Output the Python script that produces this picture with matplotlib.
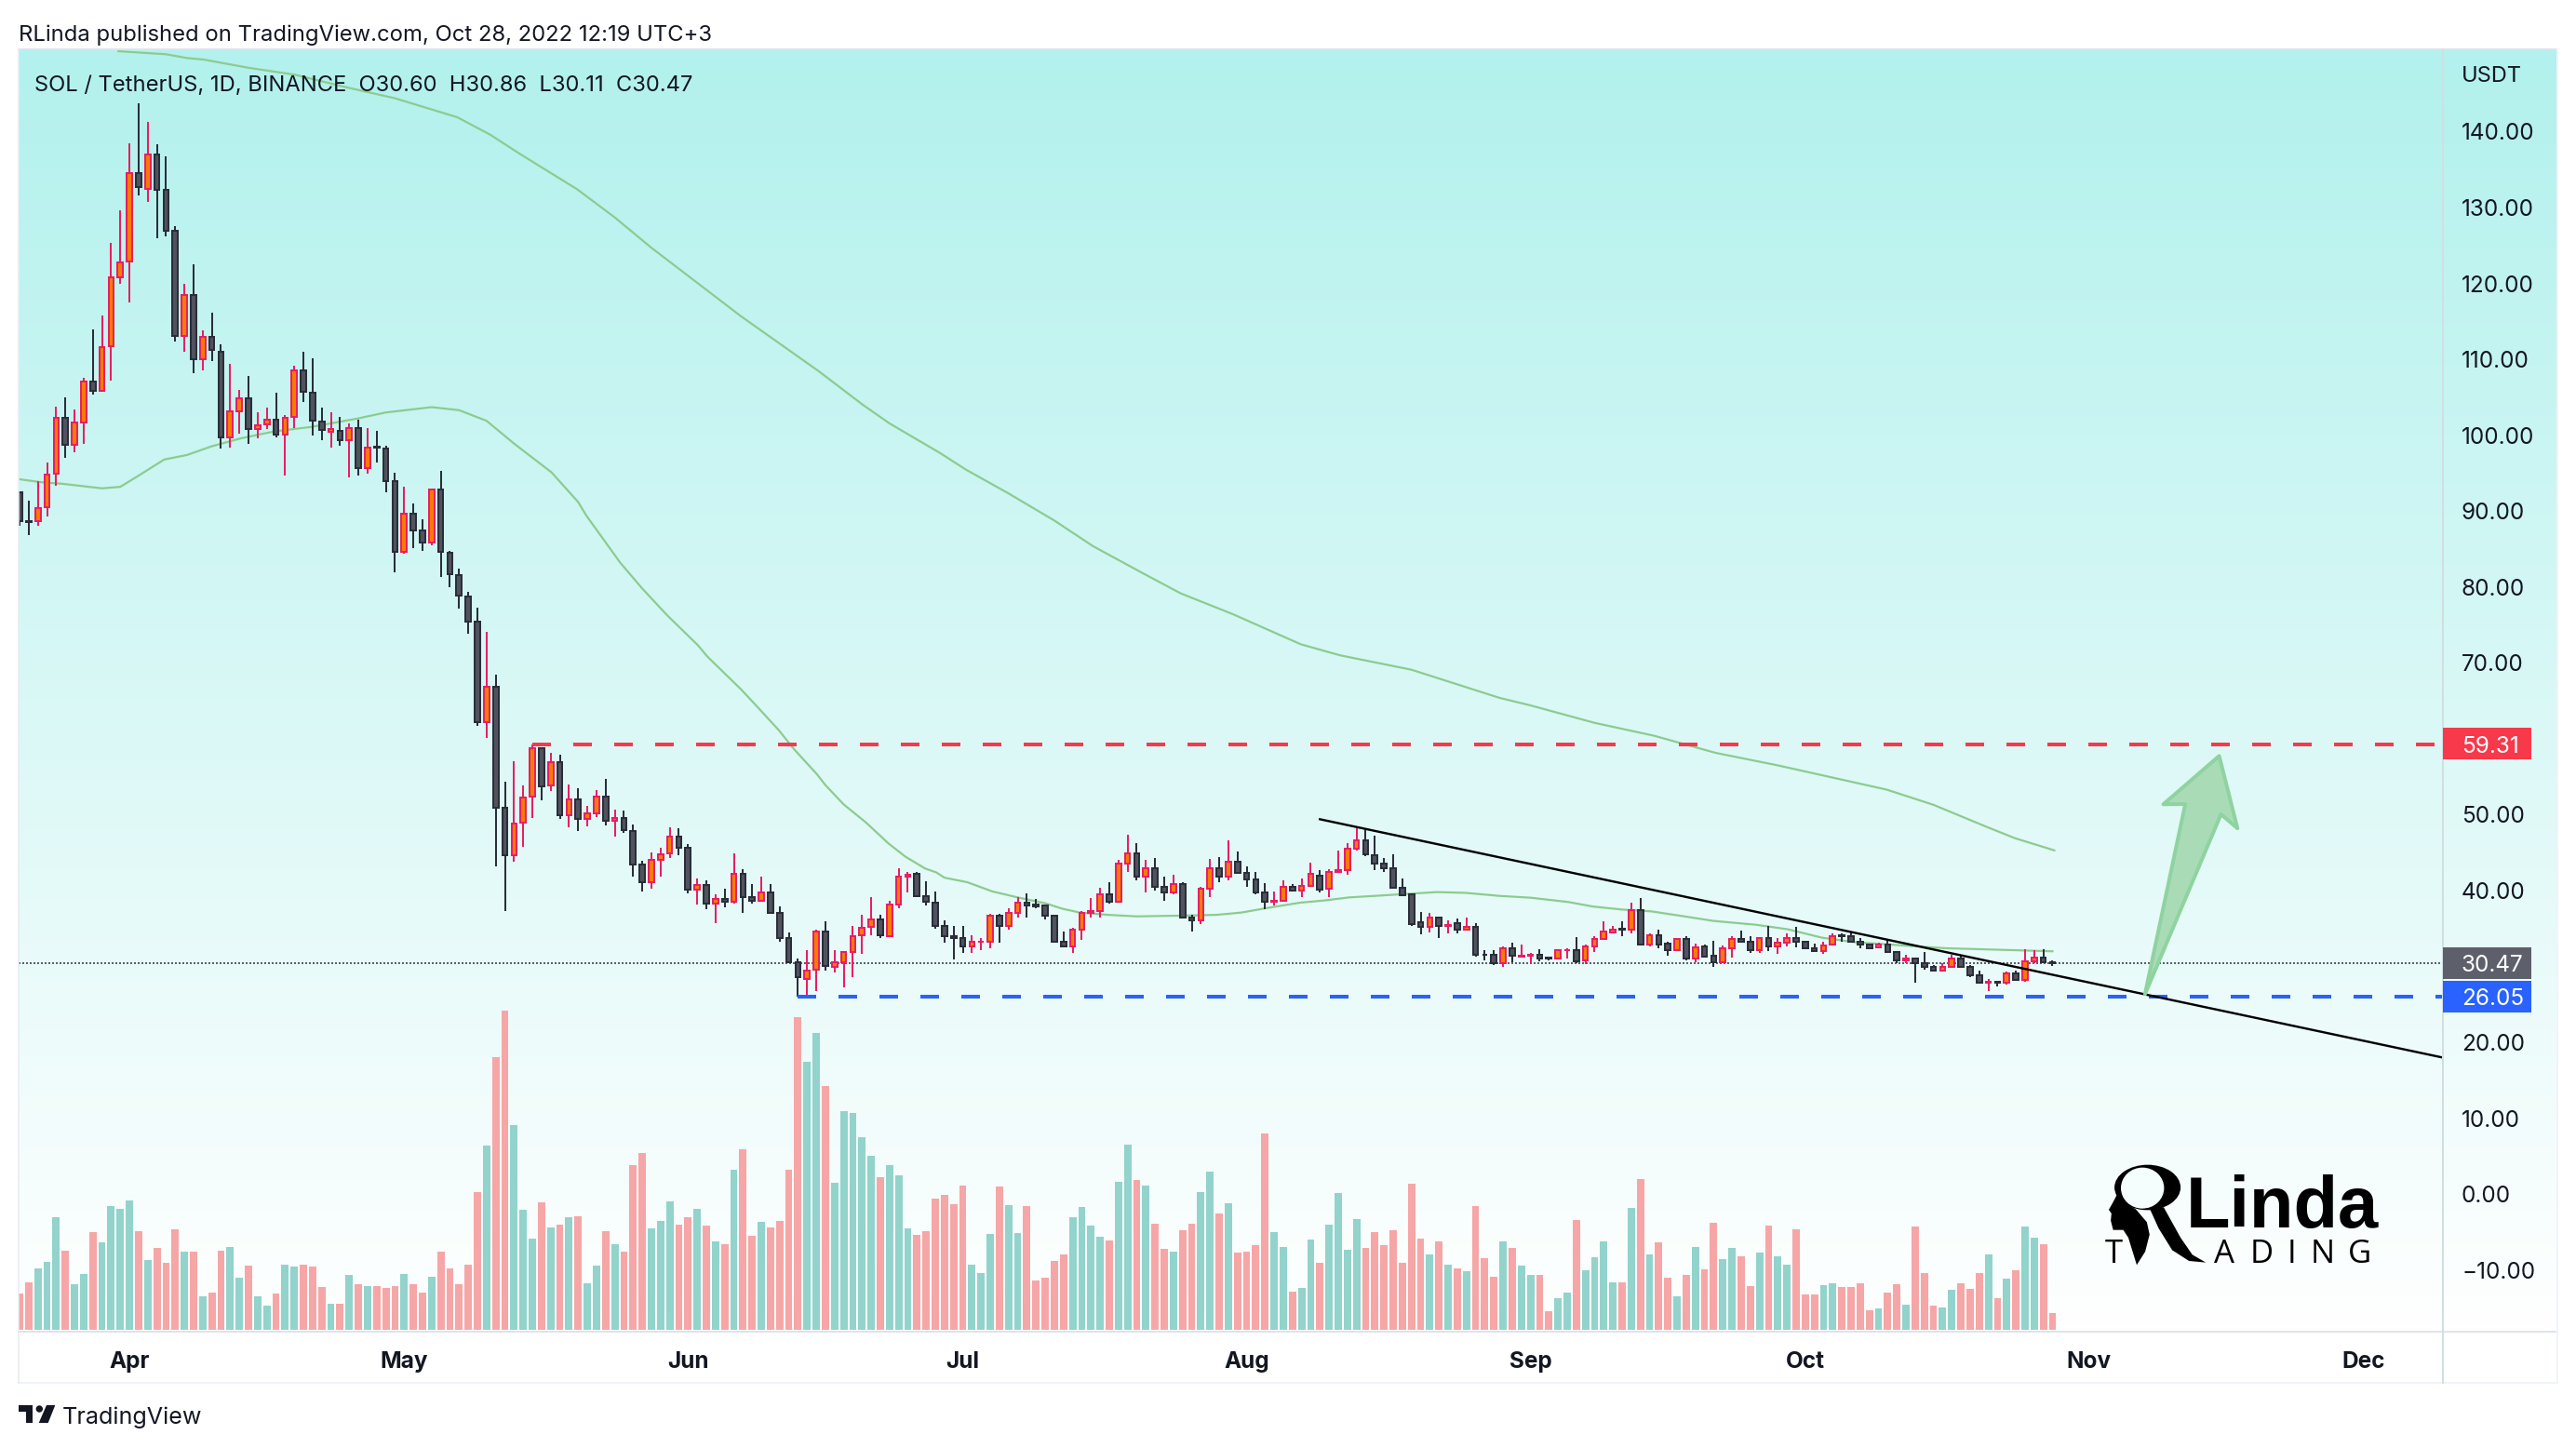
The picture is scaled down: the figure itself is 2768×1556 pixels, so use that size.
import numpy as np
import matplotlib
matplotlib.use("Agg")
import matplotlib.pyplot as plt
from matplotlib.patches import Polygon, Ellipse, Circle, FancyBboxPatch
from matplotlib.transforms import blended_transform_factory

plt.rcParams['font.family'] = ['Inter', 'DejaVu Sans']

# daily SOL/USDT candles, first one is Mar 20 2022, last one Oct 28 2022
opens = [92.5, 88.7, 88.7, 90.5, 94.9, 102.3, 98.7, 101.7, 107.1, 105.8,
         111.7, 120.8, 122.9, 134.5, 132.5, 137, 132.3, 127, 113.1, 118.5,
         110, 113, 111, 99.7, 103.2, 104.9, 100.8, 101.4, 102.1, 100.1,
         102.4, 108.5, 105.6, 101.8, 100.5, 100.6, 99.3, 100.9, 95.7, 98.5,
         98.3, 94, 84.6, 89.7, 87.5, 85.9, 92.8, 84.5, 81.6, 78.8,
         75.4, 62.2, 66.9, 50.9, 44.6, 48.9, 52.4, 58.8, 53.8, 56.9,
         49.9, 52, 49.4, 50.2, 52.4, 49.2, 49.6, 47.9, 43.4, 41.1,
         44.1, 44.9, 47.1, 45.7, 40.1, 40.7, 38.3, 38.9, 38.5, 42.2,
         39.1, 38.7, 39.8, 37.1, 33.8, 30.5, 28.4, 29.6, 34.6, 30,
         30.6, 31.9, 34.1, 35.2, 36.2, 34, 38.1, 41.9, 42.2, 39.3,
         38.4, 35.3, 34, 33.7, 32.7, 33.2, 33.3, 36.7, 35.3, 37,
         38.4, 38.1, 38, 36.7, 33.3, 32.6, 34.8, 37, 37.3, 39.5,
         38.5, 43.5, 44.9, 41.9, 43, 40.5, 39.8, 40.8, 36.5, 36.1,
         40.2, 42.9, 41.8, 43.8, 42.3, 41.5, 39.7, 38.5, 38.7, 40.5,
         40, 40.6, 42, 40.3, 42.4, 42.7, 45.5, 46.6, 44.7, 43.6,
         43, 40.4, 39.5, 35.8, 35.2, 36.4, 35.3, 35.7, 34.8, 35.2,
         31.6, 31.5, 30.4, 32.4, 31.3, 31.4, 31.5, 31.2, 31, 32.1,
         32.1, 30.8, 32.6, 33.6, 34.5, 35, 34.9, 37.4, 32.9, 34.1,
         33, 32.1, 33.6, 31, 32.6, 31.4, 30.5, 32.4, 33.6, 33.3,
         32.2, 33.8, 32.6, 33.1, 33.8, 33.2, 32.4, 32, 32.9, 34.1,
         34, 33.2, 32.9, 32.5, 32.9, 31.9, 30.8, 31, 30.4, 29.9,
         29.5, 30, 31.1, 30, 28.8, 27.9, 28, 27.9, 29.1, 28.2,
         30.7, 31.2, 30.6]
highs = [92.5, 91.4, 94, 96.4, 103.8, 105, 103.4, 107.6, 113.9, 115.8,
         125.3, 129.6, 138.5, 143.7, 141.3, 138.4, 136.8, 127.5, 120, 122.5,
         113.8, 116.2, 112, 109.4, 106, 107.8, 103, 103.6, 105.6, 102.7,
         109.1, 111, 110.1, 103.6, 103, 102.4, 101.6, 102, 100.9, 100.6,
         98.6, 95, 93.2, 91, 88.9, 93, 95.3, 84.8, 82.4, 79.4,
         77.3, 74.1, 68.4, 54.4, 57, 53.8, 59.3, 58.8, 58.2, 57.9,
         54, 53.5, 51.1, 53.2, 54.7, 50.7, 50.5, 48.7, 43.9, 45,
         45.6, 48.3, 48.2, 46.1, 41.6, 41.4, 39.5, 40.2, 44.9, 42.8,
         40.9, 41.9, 40.8, 37.9, 34.5, 31, 32.2, 34.8, 35.9, 32.1,
         32, 35.3, 36.8, 39.1, 36.8, 38.6, 42.9, 42.5, 42.4, 41.2,
         39.9, 36.1, 35.3, 35.3, 34.1, 33.8, 36.9, 36.9, 37.7, 39.2,
         39.6, 38.9, 38.2, 36.7, 34.6, 35.1, 37.3, 39, 40.4, 41.1,
         44.1, 47.4, 46.3, 44.1, 44.3, 41.8, 42.1, 41.1, 36.8, 40.5,
         44.2, 44.4, 46.6, 45.2, 43.2, 42.5, 41, 39.9, 41.4, 40.9,
         41.6, 43.7, 42.7, 42.8, 45.3, 46.2, 48.3, 48.2, 47.2, 44.3,
         44.8, 41.6, 39.5, 37.2, 37.1, 36.6, 36.1, 36.3, 36.4, 35.7,
         32.2, 32.2, 32.6, 33.1, 32.9, 31.8, 32.3, 31.3, 32.2, 32.4,
         33.9, 32.9, 34, 36, 35.3, 36, 38.4, 39, 34.3, 34.9,
         33.2, 33.8, 34, 33, 32.9, 33.4, 32.8, 34, 34.7, 34,
         33.9, 35.3, 33.7, 34.3, 35.2, 33.3, 33, 33.3, 34.4, 34.4,
         34.5, 33.7, 33, 33.1, 33.5, 31.9, 31.5, 31.2, 31.9, 30.2,
         30.4, 31.5, 31.5, 30.2, 29.4, 28.3, 28.1, 29.3, 29.4, 32.3,
         32.1, 32.3, 30.86]
lows = [88.1, 86.9, 88.1, 89.3, 93.4, 97, 97.8, 98.9, 105.4, 105.7,
        107.2, 120, 117.5, 131.6, 130.7, 126, 126.2, 112.3, 111, 108.2,
        108.5, 109.8, 98.3, 98.4, 100.2, 98.9, 99.6, 100.8, 99.7, 94.7,
        101, 104.4, 100, 99.3, 98.4, 98.6, 94.5, 94.7, 94.9, 96.4,
        92.5, 81.9, 84.4, 85.1, 84.8, 85.5, 81.3, 80, 77.1, 73.8,
        61.7, 60.1, 43.2, 37.3, 43.8, 45.8, 49.6, 51.9, 53.1, 49.4,
        48.3, 47.9, 48.5, 49.7, 48.6, 47.1, 47.6, 41.8, 39.9, 40.3,
        41.8, 44.3, 44.6, 39.6, 38.1, 37.6, 35.7, 37.8, 38.3, 37.1,
        38.3, 38.5, 36.9, 33.2, 30.5, 26, 25.9, 26.8, 29.5, 29.2,
        27.2, 28.6, 31.7, 34.1, 33.7, 33.9, 37.7, 39.8, 39.1, 38,
        35, 33.1, 30.9, 31.8, 31.8, 32.2, 32.4, 33.1, 34.9, 36.4,
        36.5, 37.7, 36.2, 33.2, 32.5, 31.8, 33.5, 36.4, 36.4, 38.3,
        38.4, 42.5, 41.3, 39.7, 40, 38.6, 39.5, 36.5, 34.6, 35.6,
        39.1, 41.1, 41.4, 42.2, 40.5, 39.5, 37.5, 38, 38.7, 39.9,
        39.2, 40.5, 39.8, 39.2, 42.4, 42.1, 45.3, 44.5, 42.7, 42.5,
        40.2, 39.3, 35.3, 34.2, 34.5, 33.7, 34.3, 34.3, 34.7, 31.3,
        30.8, 30.2, 30, 30.6, 31.2, 30.4, 30.7, 30.8, 30.9, 31.1,
        30.4, 30.3, 31.9, 33.5, 34.3, 34, 34.4, 32.9, 32.6, 32.4,
        31.4, 32, 30.8, 30.5, 31.3, 29.9, 30.4, 31.2, 33.1, 31.8,
        31.8, 32, 31.7, 32.6, 32.5, 32.3, 31.9, 31.7, 32.8, 33.2,
        33.2, 32.4, 32.3, 32.4, 31.8, 30.4, 30.4, 27.9, 29.6, 29.3,
        29.5, 29.9, 29.8, 28.6, 27.9, 26.8, 27.4, 27.6, 28.1, 28,
        30.4, 30.4, 30.11]
closes = [88.7, 88.6, 90.4, 94.8, 102.3, 98.7, 101.7, 107.1, 105.8, 111.6,
          120.8, 122.8, 134.5, 132.7, 137, 132.3, 127, 113.1, 118.5, 110,
          113, 111.2, 99.7, 103.2, 104.9, 100.8, 101.3, 102.1, 100.1, 102.3,
          108.5, 105.7, 101.9, 100.7, 100.8, 99.3, 100.9, 95.7, 98.4, 98.4,
          94, 84.6, 89.7, 87.5, 85.9, 92.8, 84.6, 81.7, 78.9, 75.4,
          62.2, 66.9, 50.9, 44.6, 48.8, 52.3, 58.8, 53.7, 56.9, 49.9,
          52, 49.4, 50.2, 52.4, 49.2, 49.6, 48, 43.4, 41.1, 44.1,
          44.8, 47.1, 45.7, 40.1, 40.7, 38.3, 38.9, 38.5, 42.2, 39.2,
          38.7, 39.8, 37.1, 33.8, 30.6, 28.6, 29.5, 34.6, 30.1, 30.6,
          31.9, 34, 35.1, 36.2, 34.1, 38.1, 41.8, 42.1, 39.3, 38.5,
          35.3, 34, 33.7, 32.7, 33.2, 33.3, 36.7, 35.3, 37, 38.4,
          38, 37.9, 36.7, 33.3, 32.6, 34.8, 37, 37.3, 39.5, 38.5,
          43.5, 44.9, 41.9, 43, 40.5, 39.8, 40.8, 36.5, 36.1, 40.2,
          42.9, 41.8, 43.8, 42.3, 41.5, 39.7, 38.5, 38.7, 40.5, 40,
          40.6, 42.2, 40.1, 42.4, 42.7, 45.5, 46.6, 44.8, 43.6, 43,
          40.4, 39.4, 35.6, 35.2, 36.4, 35.3, 35.5, 34.9, 35.2, 31.6,
          31.5, 30.4, 32.4, 31.4, 31.4, 31.5, 31.1, 31, 32.1, 32.2,
          30.7, 32.6, 33.6, 34.6, 34.9, 34.9, 37.4, 32.9, 34.1, 32.9,
          32.1, 33.6, 31, 32.5, 31.3, 30.5, 32.4, 33.6, 33.3, 32.2,
          33.8, 32.6, 33.1, 33.8, 33.2, 32.4, 32, 32.8, 34, 34,
          33.2, 32.9, 32.4, 32.9, 31.9, 30.8, 31, 30.4, 29.9, 29.5,
          30, 31.1, 30, 28.8, 27.9, 28, 27.9, 29.1, 28.2, 30.7,
          31.2, 30.6, 30.47]

# volume pane, no scale is shown so these are pixel-like heights
volumes = [39, 51, 66, 73, 121, 85, 49, 60, 105, 94, 133, 130, 139, 106, 75, 88, 72, 108, 84, 84,
           36, 40, 85, 89, 56, 69, 36, 26, 39, 70, 68, 70, 68, 46, 28, 28, 59, 49, 47, 47,
           45, 47, 60, 49, 40, 57, 84, 66, 49, 70, 148, 198, 293, 343, 220, 129, 98, 137, 110, 113,
           121, 122, 50, 69, 106, 92, 84, 177, 190, 109, 117, 138, 113, 121, 130, 112, 95, 92, 172, 194,
           101, 116, 110, 117, 172, 336, 288, 319, 262, 158, 235, 233, 207, 187, 164, 177, 166, 109, 102, 106,
           141, 145, 135, 155, 70, 61, 103, 154, 134, 104,
           133, 53, 56, 74, 81, 121, 132, 112, 100, 96, 159, 199, 161, 155, 114, 87, 84, 107, 114, 148,
           170, 125, 136, 83, 84, 91, 211, 105, 89, 41, 45, 97, 72, 113, 147, 86, 119, 88, 105, 91,
           107, 72, 157, 98, 81, 95, 70, 66, 63, 133, 77, 57, 95, 88, 69, 59, 59, 20, 34, 40,
           118, 64, 78, 95, 51, 51, 131, 162, 81, 94, 56, 36, 59, 89, 65, 115, 76, 88, 79, 47,
           83, 112, 79, 70, 108, 38, 38, 48, 50, 46, 46, 50, 21, 23, 40, 49, 27, 111, 61, 26,
           24, 43, 50, 44, 61, 81, 34, 55, 64, 111, 99, 92, 18]
vol_sides = ("RRGGGRGGRG" "GGGRGRRRGR" "GRRGGRGGRG" "GRRRGRGRGR" "RRGRRGRRRR"
             "RGRRGGGRGR" "GRGGRGRRRG" "GGRRGRGRGR" "RGRRRRGGRG" "GGGGRGGGRR"
             "RRRRGGGRGG"
             "RRRRRGGGGR" "GGRGRRGRRG" "GRGRRRRGGR" "GGRGGGGRRR" "RRRRGRGRGR"
             "RRGRGGRRGG" "RGGGGRGRGR" "RGRGRRGGRR" "GRGGRRRGGR" "RRRGRRGRRR"
             "GGRRRGRGRG" "GRR")

# moving averages, bar index and price
ma_fast_x = [0, 2.4, 4.7, 9, 11, 12.9, 15.8, 18.3, 21, 24.2, 27.8, 31.9, 36.9, 40, 45, 48, 51, 54,
             58.1, 61, 61.9, 65.6, 68, 70.7, 74.1, 75.1, 78.8, 80.5, 82.9, 84.6, 87.1, 88, 90, 92.4, 94.9,
             96.7, 98.9, 100.1, 101, 103.5, 106.2, 109, 112.1, 113.9, 115.8, 118.9, 122, 127, 130.7, 133.4,
             136.2, 139.8, 142.5, 145.2, 148, 152, 154.8, 157.9, 161.6, 165, 169.1, 171.8, 175, 178.2, 181.8,
             185, 189.6, 193.1, 196.8, 200.4, 205.8, 210.4, 216.3, 222]
ma_fast_y = [94.2, 93.8, 93.6, 93, 93.2, 94.6, 96.8, 97.4, 98.55, 99.6, 100.5, 101.1, 102.2, 103, 103.7, 103.3, 101.9, 98.9,
             95.1, 91.2, 89.4, 83.2, 79.8, 76.3, 72.3, 70.85, 66.5, 64.3, 61.15, 58.6, 55.3, 53.9, 51.35, 49, 46.2,
             44.5, 42.9, 42.4, 41.7, 41.1, 39.9, 39.1, 38.3, 37.6, 37.1, 36.8, 36.6, 36.7, 36.8, 37.1,
             37.7, 38.4, 38.7, 39.1, 39.3, 39.6, 39.8, 39.7, 39.3, 39.06, 38.5, 37.9, 37.5, 37.26, 36.6,
             36, 35.5, 34.9, 33.8, 33.2, 32.76, 32.4, 32.2, 32]
ma_slow_x = [10.8, 16, 18.3, 20.1, 25.1, 30.1, 35.5, 41, 47.8, 51.4, 54.6, 60.9, 65, 69, 78.8, 87.2, 92.1, 95,
             100.5, 103.4, 107.9, 113, 117.2, 122.6, 126.8, 132.5, 139.9, 144.2, 152, 161.6, 165, 172, 178.5,
             185.2, 192, 203.9, 209, 214.8, 217.9, 222.2]
ma_slow_y = [150.6, 150.2, 149.7, 149.5, 148.4, 147.5, 145.9, 144.4, 141.9, 139.6, 137.1, 132.4, 128.7, 124.7, 115.66, 108.5, 104, 101.56,
             97.67, 95.43, 92.4, 88.76, 85.4, 81.86, 79.16, 76.42, 72.46, 71, 69.1, 65.4, 64.4, 62.1, 60.4,
             58.15, 56.5, 53.3, 51.3, 48.4, 46.9, 45.3]

# drawn levels and shapes
resistance = 59.31
support = 26.05
last_price = 30.47
trend_x = [142, 264.6]
trend_y = [49.4, 18.0]
arrow_x = [232.1, 236.5, 234.1, 240.2, 242.2, 240.4]
arrow_y = [26.35, 51.4, 51.37, 57.74, 48.2, 50.05]

month_pos = [12, 42, 73, 103, 134, 165, 195, 226, 256]
month_labels = ['Apr', 'May', 'Jun', 'Jul', 'Aug', 'Sep', 'Oct', 'Nov', 'Dec']
# 60 and 30 sit under the price tags and are not shown
price_ticks = [-10, 0, 10, 20, 40, 50, 70, 80, 90, 100, 110, 120, 130, 140]

W, H = 2768, 1556
PX = 0.72  # one pixel in points at dpi 100
TEXT = '#131722'
LEFT, RIGHT, TOP, BOTTOM = 20, 2625, 53, 1430
STEP = 9.84


def box(l, t, r, b):
    return [l / W, 1 - b / H, (r - l) / W, (b - t) / H]


fig = plt.figure(figsize=(W / 100, H / 100), dpi=100, facecolor='white')

# background gradient, runs under the price scale too
bg = fig.add_axes(box(LEFT, TOP, 2748, BOTTOM), zorder=0)
top_col = np.array([178, 241, 237]) / 255
grad = np.linspace(0, 1, 256)[:, None, None] * (1 - top_col) + top_col
bg.imshow(grad, aspect='auto', extent=(0, 1, 0, 1))
bg.axis('off')

ax = fig.add_axes(box(LEFT, TOP, RIGHT, BOTTOM), zorder=2)
ax.patch.set_alpha(0)
xlim = ((LEFT - 21) / STEP, (RIGHT - 21) / STEP)
ax.set_xlim(*xlim)
ax.set_ylim(-18.0, 150.85)

# volume pane shares the x scale
vol_ax = fig.add_axes(box(LEFT, TOP, RIGHT, BOTTOM), zorder=1)
vol_ax.patch.set_alpha(0)
vol_ax.set_xlim(*xlim)
vol_ax.set_ylim(-1, 1376)
vol_ax.axis('off')
idx = np.arange(len(opens))
vol_cols = ['#f6a6a6' if s == 'R' else '#92d3cc' for s in vol_sides]
vol_ax.bar(idx, volumes, width=0.8, color=vol_cols, linewidth=0)

# moving averages
ax.plot(ma_fast_x, ma_fast_y, color='#8ccb8f', lw=2.2 * PX, zorder=2)
ax.plot(ma_slow_x, ma_slow_y, color='#8ccb8f', lw=2.2 * PX, zorder=2)

# candles
opens_a, closes_a = np.array(opens), np.array(closes)
up = closes_a >= opens_a
wick_cols = ['#e91e63' if u else '#2a2e39' for u in up]
ax.vlines(idx, lows, highs, colors=wick_cols, lw=2 * PX, zorder=3)
body_low = np.minimum(opens_a, closes_a)
body_h = np.abs(closes_a - opens_a)
ax.bar(idx[up], body_h[up], bottom=body_low[up], width=0.58, color='#f57c00',
       edgecolor='#e91e63', linewidth=2 * PX, zorder=4)
ax.bar(idx[~up], body_h[~up], bottom=body_low[~up], width=0.58, color='#50535e',
       edgecolor='#2a2e39', linewidth=2 * PX, zorder=4)

# levels
ax.plot([-0.1, xlim[1]], [last_price, last_price], color='#5d606b', lw=2 * PX,
        dashes=(1, 1), dash_capstyle='butt', zorder=2)
ax.plot([56, xlim[1]], [resistance, resistance], color='#f7394b', lw=4 * PX,
        dashes=(5, 6), dash_capstyle='butt', zorder=5)
ax.plot([85, xlim[1]], [support, support], color='#2962ff', lw=4 * PX,
        dashes=(5, 6), dash_capstyle='butt', zorder=5)
ax.plot(trend_x, trend_y, color='black', lw=2.4 * PX, zorder=6)
ax.add_patch(Polygon(list(zip(arrow_x, arrow_y)), closed=True, facecolor='#a9dcb6',
                     edgecolor='#8fd3a0', lw=4 * PX, joinstyle='round', zorder=6))

# axes look
for s in ax.spines.values():
    s.set_visible(False)
ax.set_xticks(month_pos, month_labels, fontsize=17.5, fontweight='bold', color=TEXT)
ax.yaxis.tick_right()
ax.set_yticks(price_ticks, [f'{v:.2f}'.replace('-', '\u2212') for v in price_ticks],
              fontsize=17.5, color=TEXT)
ax.tick_params(axis='x', length=0, pad=15.5)
ax.tick_params(axis='y', length=0, pad=14.4)

# overlay in pixels for frame, headers and logos
ov = fig.add_axes([0, 0, 1, 1], zorder=3)
ov.set_xlim(0, W)
ov.set_ylim(H, 0)
ov.axis('off')
ov.patch.set_alpha(0)

ov.plot([LEFT, 2748], [TOP, TOP], color='#e0e3eb', lw=1.4)
ov.plot([LEFT, 2748], [1431, 1431], color='#e0e3eb', lw=2 * PX)
ov.plot([LEFT, 2748], [1486, 1486], color='#f0f3fa', lw=2 * PX)
ov.plot([LEFT, LEFT], [TOP, 1486], color='#e8ebf2', lw=1.5 * PX)
ov.plot([2748, 2748], [TOP, 1486], color='#f0f3fa', lw=2 * PX)
ov.plot([RIGHT, RIGHT], [TOP, 1486], color='#d0dfe2', lw=2 * PX)

# price tags on the scale, squared on the axis side and rounded on the right
tr = blended_transform_factory(ov.transData, ax.transData)
tags = [(resistance, '#f7394b'), (last_price, '#5d606b'), (support, '#2962ff')]
for v, c in tags:
    ov.add_patch(FancyBboxPatch((2632, v - 1.6), 88, 3.2, boxstyle='round,pad=0,rounding_size=4',
                                transform=tr, facecolor=c, edgecolor='none', mutation_aspect=0.12,
                                zorder=4))
    ov.add_patch(FancyBboxPatch((RIGHT, v - 2.08), 95, 4.17, boxstyle='square,pad=0', transform=tr,
                                facecolor=c, edgecolor='none', zorder=4))
    ov.text(2645, v, f'{v:.2f}', transform=tr, color='white', fontsize=17.5,
            va='center_baseline', ha='left', zorder=5)

ov.text(20, 37.5, 'RLinda published on TradingView.com, Oct 28, 2022 12:19 UTC+3', fontsize=17.15,
        color=TEXT, va='center')
ov.text(37, 91.5, 'SOL / TetherUS, 1D, BINANCE  O30.60  H30.86  L30.11  C30.47', fontsize=17.1,
        color=TEXT, va='center')
ov.text(2645, 82, 'USDT', fontsize=17, color=TEXT, va='center')

# TradingView mark
ov.add_patch(Polygon([(20, 1510), (35, 1510), (35, 1529), (27.5, 1529), (27.5, 1517), (20, 1517)], color=TEXT, lw=0))
ov.add_patch(Circle((42.3, 1514), 3.7, color=TEXT, lw=0))
ov.add_patch(Polygon([(50, 1510), (59.3, 1510), (51.7, 1529), (41.7, 1529)], color=TEXT, lw=0))
ov.text(67, 1523, 'TradingView', fontsize=18.1, color=TEXT, va='center')


def lp(zx, zy):
    return (2200 + zx / 2.76, 1220 + zy / 3)


ov.add_patch(Ellipse(lp(297, 168), 196 / 2.76, 146 / 3, color='black', lw=0))
ov.add_patch(Ellipse(lp(282, 170), 128 / 2.76, 132 / 3, color='#f4fefd', lw=0))
hair = [(207, 190), (195, 215), (182, 240), (190, 252), (188, 275), (195, 305), (225, 305), (240, 330),
        (265, 418), (290, 375), (303, 320), (295, 280), (262, 238), (225, 215)]
ov.add_patch(Polygon([lp(*p) for p in hair], color='black', lw=0))
leg = [(270, 238), (345, 232), (395, 330), (430, 385), (470, 410), (420, 405), (370, 370), (330, 300), (305, 240)]
ov.add_patch(Polygon([lp(*p) for p in leg], color='black', lw=0))
ov.text(2349, 1319, 'Linda', fontsize=56, fontweight='bold', color='black', va='baseline',
        family=['Liberation Sans', 'DejaVu Sans'])
for ch, zx in zip('TADING', [197, 525, 635, 725, 815, 925]):
    ov.text(lp(zx, 0)[0], 1357, ch, fontsize=25, color='black', ha='center', va='baseline',
            family=['Open Sans', 'DejaVu Sans'])

fig.savefig('out.png', dpi=100)
